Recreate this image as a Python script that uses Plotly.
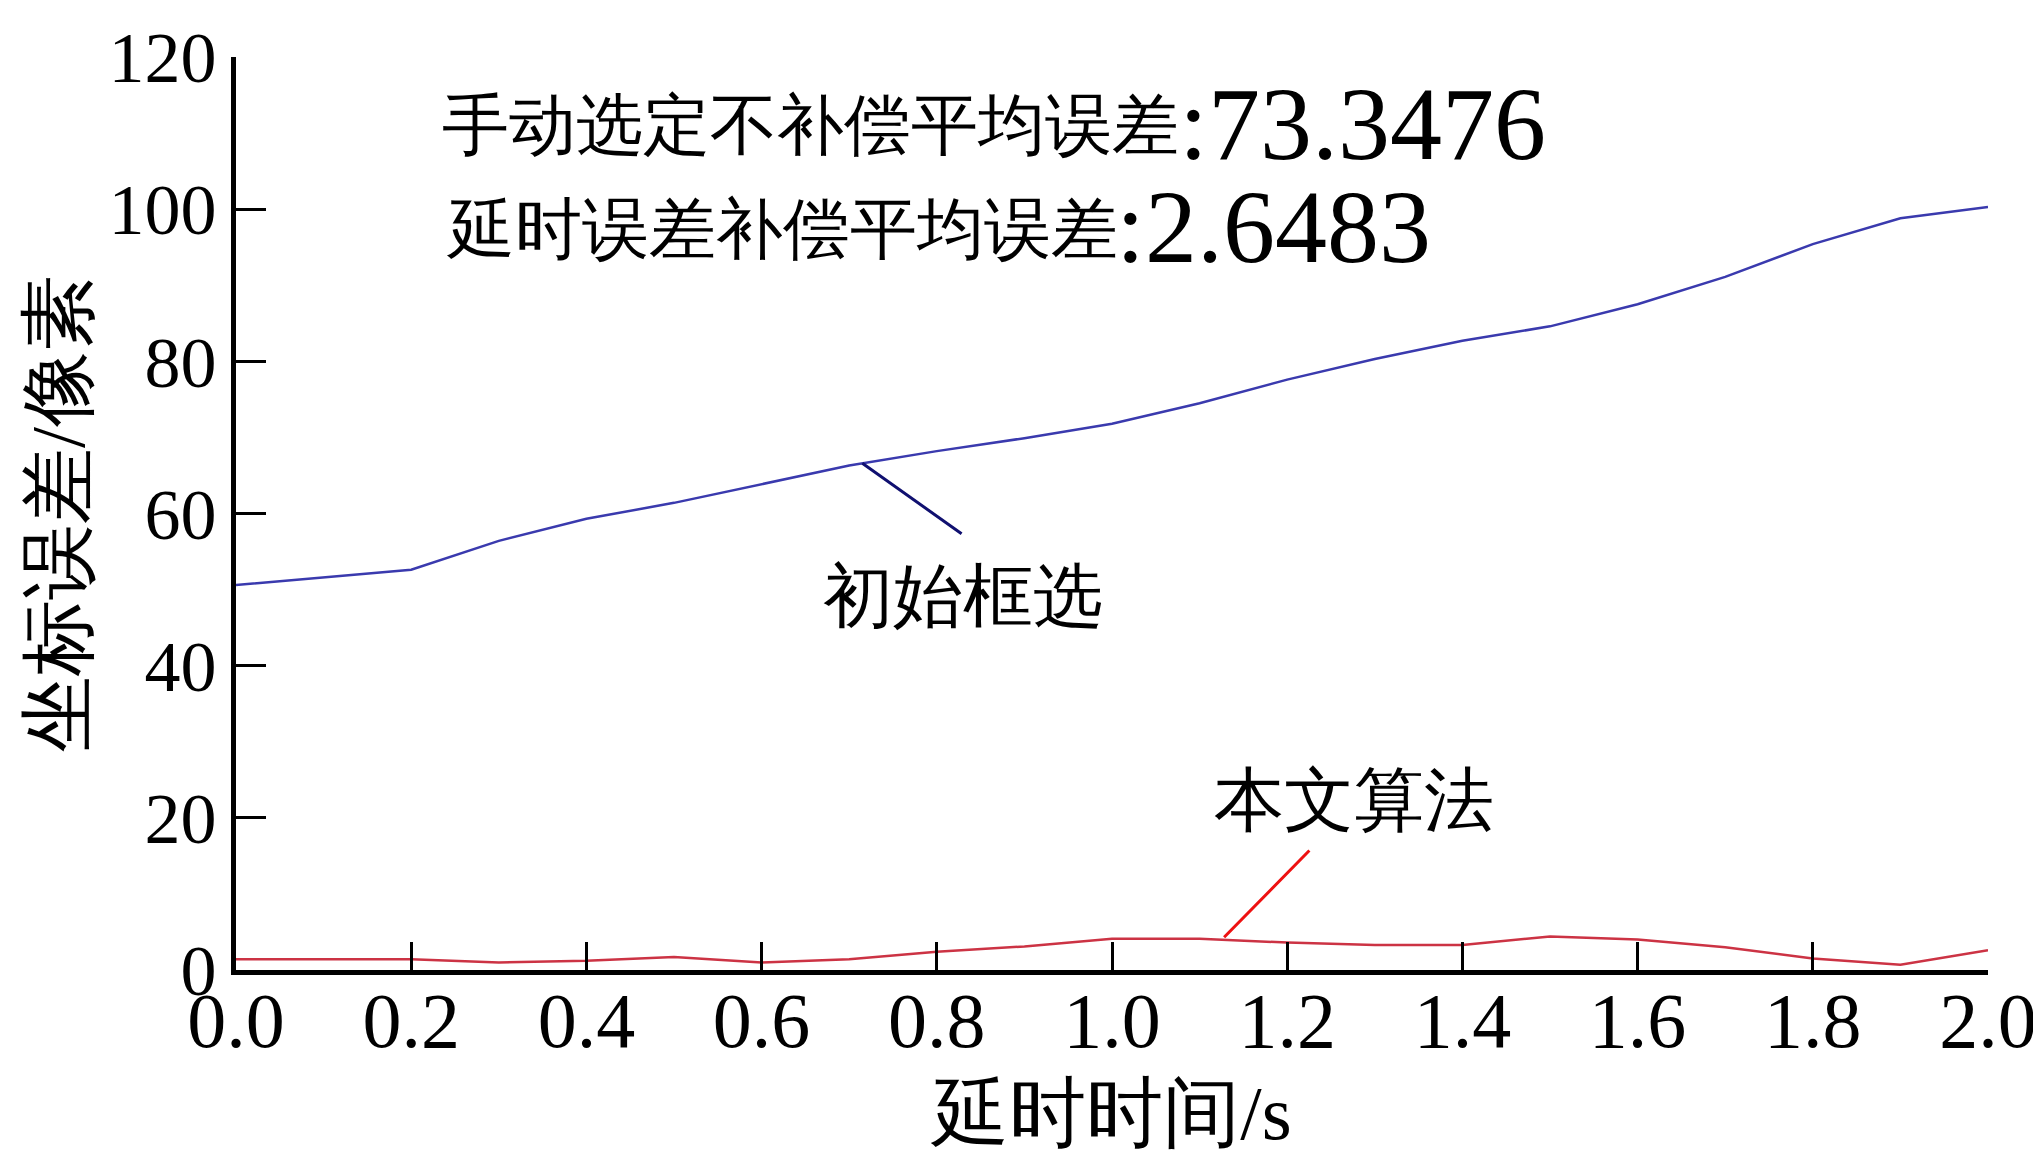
import plotly.graph_objects as go

delay_s = [0.0, 0.1, 0.2, 0.3, 0.4, 0.5, 0.6, 0.7, 0.8, 0.9, 1.0,
           1.1, 1.2, 1.3, 1.4, 1.5, 1.6, 1.7, 1.8, 1.9, 2.0]
initial_box = [50.6, 51.6, 52.6, 56.4, 59.3, 61.4, 63.9, 66.3, 68.2, 69.9, 71.8,
               74.5, 77.6, 80.3, 82.7, 84.6, 87.5, 91.1, 95.4, 98.8, 100.3]
ours = [1.4, 1.4, 1.4, 1.0, 1.2, 1.7, 1.0, 1.4, 2.4, 3.1, 4.1,
        4.1, 3.6, 3.3, 3.3, 4.4, 4.0, 3.0, 1.5, 0.7, 2.6]

x_ticks = [0.0, 0.2, 0.4, 0.6, 0.8, 1.0, 1.2, 1.4, 1.6, 1.8, 2.0]
x_tick_text = ["0.0", "0.2", "0.4", "0.6", "0.8", "1.0", "1.2", "1.4", "1.6", "1.8", "2.0"]
y_ticks = [0, 20, 40, 60, 80, 100, 120]

label_manual = "手动选定不补偿平均误差"
value_manual = ":73.3476"
label_comp = "延时误差补偿平均误差"
value_comp = ":2.6483"

FONT = "Liberation Serif"
NUM_FONT = "Times New Roman, Liberation Serif, DejaVu Serif, serif"
CJK_SIZE = 67
NUM_SIZE = 104

fig = go.Figure()
fig.add_trace(go.Scatter(x=delay_s, y=initial_box, mode="lines",
                         line=dict(color="#3a3aae", width=2.5), showlegend=False))
fig.add_trace(go.Scatter(x=delay_s, y=ours, mode="lines",
                         line=dict(color="#cc3344", width=2.5), showlegend=False))

annotations = []
for text_y, x0, lab, val in [(111, 0.233, label_manual, value_manual),
                             (97.4, 0.237, label_comp, value_comp)]:
    annotations.append(dict(x=x0, y=text_y, xref="x", yref="y", text=lab,
                            showarrow=False, xanchor="left", yanchor="middle",
                            font=dict(size=CJK_SIZE, color="black", family=FONT)))
    annotations.append(dict(x=x0, y=text_y, xref="x", yref="y", text=val,
                            xshift=len(lab) * CJK_SIZE, yshift=2,
                            showarrow=False, xanchor="left", yanchor="middle",
                            font=dict(size=NUM_SIZE, color="black", family=NUM_FONT)))

annotations += [
    dict(x=0.83, y=49.1, xref="x", yref="y", text="初始框选",
         showarrow=False, xanchor="center", yanchor="middle",
         font=dict(size=70, color="black", family=FONT)),
    dict(x=1.276, y=22.3, xref="x", yref="y", text="本文算法",
         showarrow=False, xanchor="center", yanchor="middle",
         font=dict(size=70, color="black", family=FONT)),
    # leader lines
    dict(x=0.715, y=66.6, ax=0.83, ay=57.2, xref="x", yref="y", axref="x", ayref="y",
         text="", showarrow=True, arrowhead=0, arrowwidth=3, arrowcolor="#101070"),
    dict(x=1.128, y=4.3, ax=1.227, ay=15.9, xref="x", yref="y", axref="x", ayref="y",
         text="", showarrow=True, arrowhead=0, arrowwidth=3, arrowcolor="#ee1111"),
]

fig.update_layout(
    width=2041, height=1167,
    margin=dict(l=228, r=61, t=49, b=205),
    paper_bgcolor="white", plot_bgcolor="white",
    font=dict(family=FONT, color="black"),
    annotations=annotations,
    xaxis=dict(range=[0, 2.0], tickvals=x_ticks, ticktext=x_tick_text,
               ticks="inside", ticklen=28, tickwidth=3, tickcolor="black",
               showline=True, linewidth=5, linecolor="black", showgrid=False,
               zeroline=False, tickfont=dict(size=78, family=FONT),
               automargin=False, ticklabelstandoff=-22,
               title=dict(text="延时时间/s", font=dict(size=77, family=FONT), standoff=24)),
    yaxis=dict(range=[0, 120], tickvals=y_ticks,
               ticks="inside", ticklen=30, tickwidth=3, tickcolor="black",
               showline=True, linewidth=5, linecolor="black", showgrid=False,
               zeroline=False, tickfont=dict(size=72, family=FONT),
               automargin=False,
               title=dict(text="坐标误差/像素", font=dict(size=76, family=FONT), standoff=0)),
)

fig.write_html("out.html")
